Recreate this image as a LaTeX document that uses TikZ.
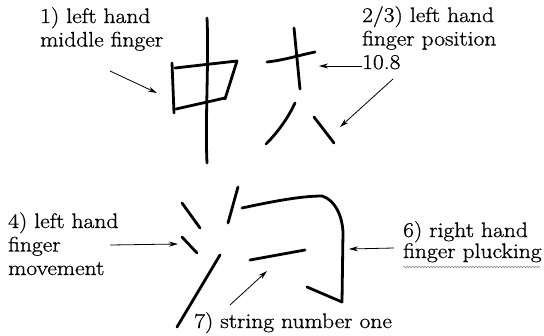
\documentclass[tikz,border=0pt]{standalone}
\usepackage{fontspec}
\setmainfont{Latin Modern Roman}[FakeStretch=1.12, FakeBold=0.8]
\usetikzlibrary{arrows.meta, decorations.pathmorphing}

\begin{document}
\begin{tikzpicture}[
    x=1pt, y=-1pt,
    label/.style={anchor=base west, inner sep=0pt, text width=8cm, align=left, font=\fontsize{21}{23.5}\selectfont},
    stroke/.style={line width=2.8pt, line cap=round, line join=round},
    line/.style={draw, line width=0.8pt, -{Stealth[length=9pt, width=5pt]}}
]
    \useasboundingbox (0,0) rectangle (544,335);

    % Labels
    \node [label] (L_middle) at (40,23) {1) left hand\\middle finger};
    \node [label] (L_position) at (362,22) {2/3) left hand\\finger position\\10.8};
    \node [label] (L_movement) at (8,228) {4) left hand\\finger\\movement};
    \node [label] (L_plucking) at (403,237) {6) right hand\\[-2.5pt]finger plucking};
    \node [label] (L_string) at (194,328) {7) string number one};

    % Upper character
    \draw [stroke] (207,18) .. controls (209,60) and (205,120) .. (207,163);
    \draw [stroke] (172,63) -- (174,113);
    \draw [stroke] (175,68) -- (237,61) -- (225,99);
    \draw [stroke] (176,109) -- (225,98);
    \draw [stroke] (267,62) .. controls (285,60) and (300,55) .. (315,52);
    \draw [stroke] (294,28) -- (300,89);
    \draw [stroke] (295,103) .. controls (288,118) and (278,132) .. (266,144);
    \draw [stroke] (314,117) -- (334,143);

    % Lower character
    \draw [stroke] (182,203) -- (200,228);
    \draw [stroke] (182,237) -- (197,253);
    \draw [stroke] (177,327) -- (220,255);
    \draw [stroke] (238,187) -- (228,223);
    \draw [stroke] (242,208) .. controls (270,202) and (300,196) .. (322,196)
        .. controls (335,200) and (342,215) .. (343,232) -- (342,302) -- (307,287);
    \draw [stroke] (250,260) -- (305,250);

    % Arrow ends
    \coordinate (T_middle) at (110,71);
    \coordinate (H_middle) at (157,93);
    \coordinate (T_pos) at (362,66);
    \coordinate (H_pos) at (319,66);
    \coordinate (T_dot) at (393,79);
    \coordinate (H_dot) at (340,127);
    \coordinate (T_move) at (110,245);
    \coordinate (H_move) at (178,244);
    \coordinate (T_pluck) at (394,248);
    \coordinate (H_pluck) at (349,249);
    \coordinate (T_string) at (230,305);
    \coordinate (H_string) at (267,271);

    % Arrows
    \path [line] (T_middle) -- (H_middle);
    \path [line] (T_pos) -- (H_pos);
    \path [line] (T_dot) -- (H_dot);
    \path [line] (T_move) -- (H_move);
    \path [line] (T_pluck) -- (H_pluck);
    \path [line] (T_string) -- (H_string);

    % spell-check underline
    \draw [gray, line width=0.5pt, decorate, decoration={snake, amplitude=0.8pt, segment length=3pt}]
        ([yshift=-7pt]L_plucking.base west) ++(0,23) -- ++(137,0);
\end{tikzpicture}
\end{document}
